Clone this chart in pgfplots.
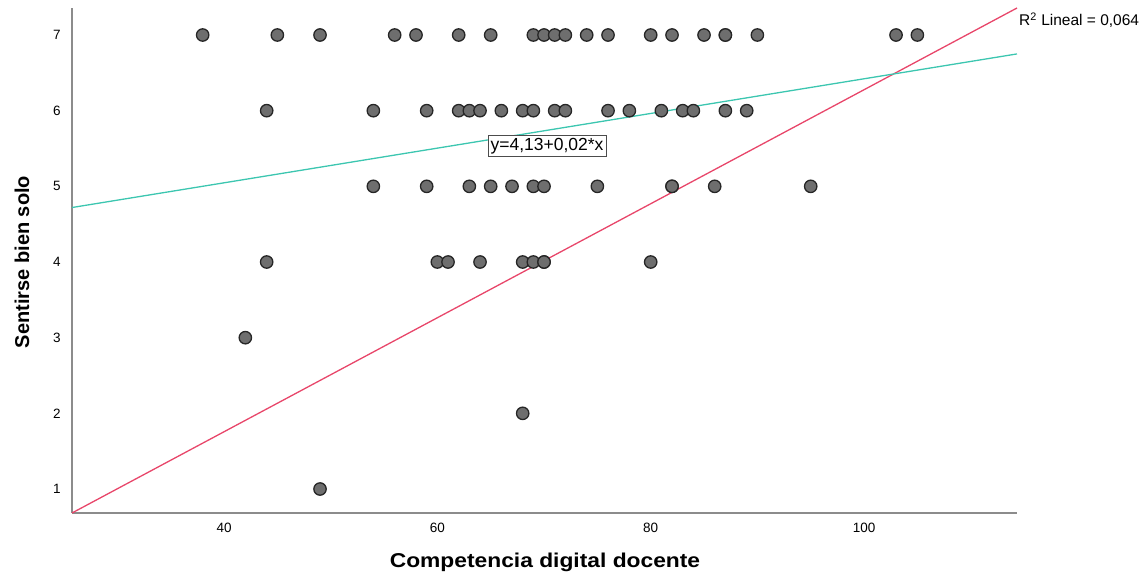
\documentclass[border=0pt]{standalone}
\usepackage{fontspec}
\setmainfont{Liberation Sans}
\usepackage{graphicx}
\usepackage{pgfplots}
\pgfplotsset{compat=1.18}
\definecolor{fitred}{HTML}{E8466A}
\definecolor{fitteal}{HTML}{3CC6B0}
\definecolor{dotfill}{HTML}{6E6E6E}
\definecolor{axgray}{HTML}{8C8C8C}
\pgfplotstableread{
x y
38 7
45 7
49 7
56 7
58 7
62 7
65 7
69 7
70 7
71 7
72 7
74 7
76 7
80 7
82 7
85 7
87 7
87 7
90 7
103 7
105 7
44 6
54 6
59 6
62 6
63 6
64 6
66 6
68 6
69 6
71 6
72 6
76 6
78 6
81 6
83 6
84 6
87 6
89 6
54 5
59 5
63 5
65 5
67 5
69 5
70 5
75 5
82 5
82 5
86 5
95 5
44 4
60 4
61 4
64 4
68 4
69 4
70 4
70 4
80 4
42 3
68 2
49 1
}\pointdata
\begin{document}
\begin{tikzpicture}[x=1pt,y=1pt]
\begin{axis}[
  at={(72pt,62pt)}, anchor=south west,
  scale only axis, width=945pt, height=505pt,
  xmin=25.75, xmax=114.34, ymin=0.683, ymax=7.357,
  axis x line*=bottom, axis y line*=left,
  axis line style={axgray, line width=1.5pt},
  xtick={40,60,80,100}, ytick={1,2,3,4,5,6,7},
  major tick length=0pt,
  /pgf/number format/assume math mode=true,
  tick label style={font=\fontsize{13.5}{16}\selectfont},
  xticklabel style={anchor=center, yshift=-15pt},
  yticklabel style={anchor=center, xshift=-15pt},
  xlabel={\scalebox{1.14}[1]{Competencia digital docente}},
  ylabel={Sentirse bien solo},
  label style={font=\bfseries\fontsize{20}{24}\selectfont},
  xlabel style={at={(axis description cs:0.5005,-0.097)}, anchor=center},
  ylabel style={at={(axis description cs:-0.0529,0.497)}, anchor=center},
  clip=false,
]
\addplot[only marks, mark=*, mark size=6.2pt,
  mark options={fill=dotfill, draw=black!85, line width=1.3pt}]
  table[x=x, y=y] {\pointdata};
\addplot[fitred, line width=1.3pt] coordinates {(25.75,0.683) (114.34,7.357)};
\addplot[fitteal, line width=1.3pt] coordinates {(25.75,4.72) (114.34,6.75)};
\node[draw=black!70, fill=white, inner xsep=2.5pt, inner ysep=1pt, minimum height=21pt,
  font=\fontsize{17.5}{19}\selectfont] at (axis cs:70.28,5.533) {y=4,13+0,02*x};
\node[anchor=west, inner sep=0pt, font=\fontsize{15.5}{18}\selectfont]
  at (axis cs:114.53,7.2) {R\textsuperscript{2} Lineal = 0,064};
\end{axis}
\pgfresetboundingbox
\path (0,0) rectangle (1145pt,575pt);
\end{tikzpicture}
\end{document}
